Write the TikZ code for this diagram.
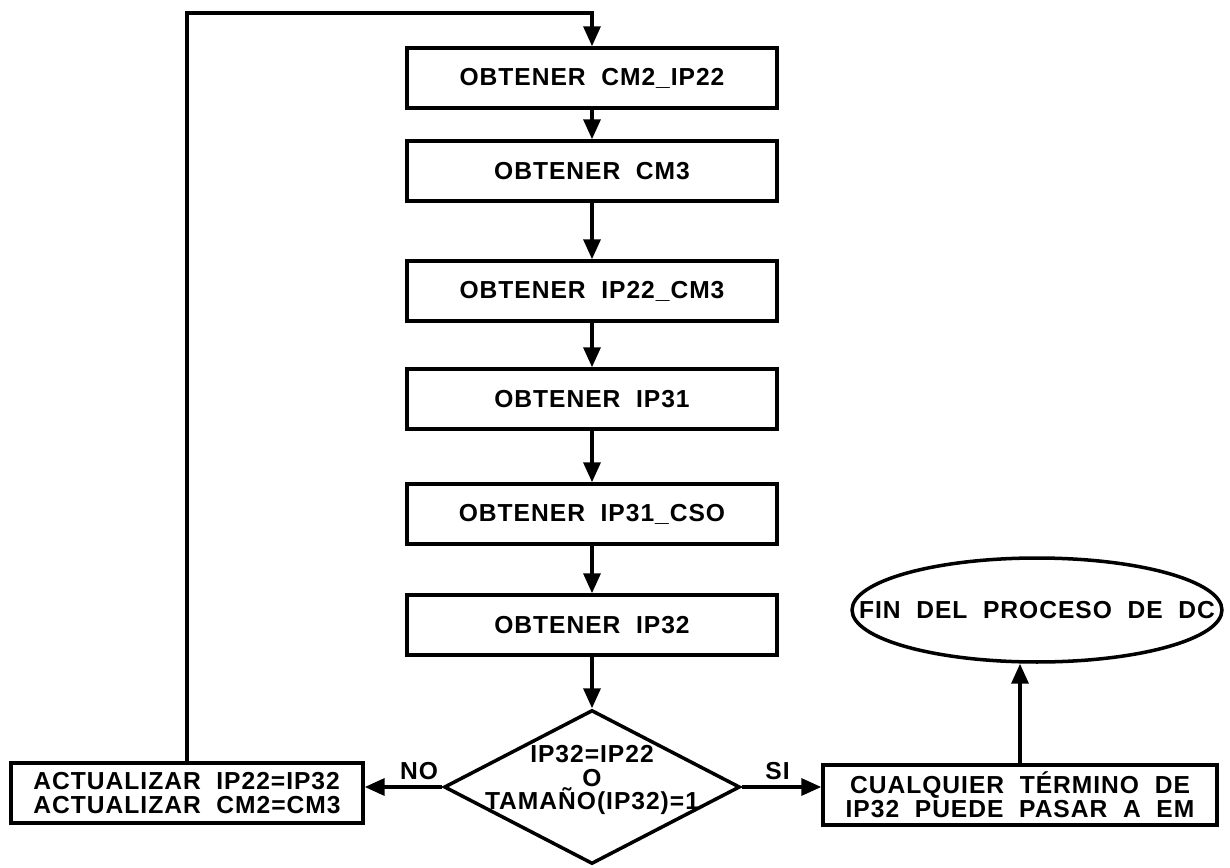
\documentclass[tikz,border=0pt]{standalone}
\usepackage{fontspec}
\newfontfamily\flowfont{Liberation Sans Bold}[LetterSpace=4,WordSpace=2]
\usetikzlibrary{arrows.meta,shapes.geometric}

\begin{document}
\begin{tikzpicture}[x=0.02cm,y=-0.02cm,
    every node/.style={font=\flowfont\fontsize{14}{13.5}\selectfont},
    box/.style={draw,line width=2pt,minimum height=1.2cm,inner sep=2pt},
    arr/.style={line width=2pt,-{Triangle[length=0.4cm,width=0.34cm]}}]
    \useasboundingbox (0,0) rectangle (1230,868);

    \node[box,minimum width=7.4cm] (obt1) at (592,78) {OBTENER CM2\_IP22};
    \node[box,minimum width=7.4cm] (obt2) at (592,171) {OBTENER CM3};
    \node[box,minimum width=7.4cm] (obt3) at (592,291) {OBTENER IP22\_CM3};
    \node[box,minimum width=7.4cm] (obt4) at (592,399) {OBTENER IP31};
    \node[box,minimum width=7.4cm] (obt5) at (592,514) {OBTENER IP31\_CSO};
    \node[box,minimum width=7.4cm] (obt6) at (592,625) {OBTENER IP32};

    \node[diamond,draw,line width=2pt,inner sep=0pt,minimum width=5.92cm,minimum height=3.08cm,
        label={[align=center,yshift=0.14cm,font=\flowfont\fontsize{14}{13.2}\selectfont]center:{IP32=IP22\\O\\TAMAÑO(IP32)=1}}] (dec) at (592,787) {};

    \node[box,minimum width=7.04cm,align=left] (upd) at (187,793) {ACTUALIZAR IP22=IP32\\ACTUALIZAR CM2=CM3};
    \node[box,minimum width=7.88cm,align=center] (cual) at (1020,795) {CUALQUIER TÉRMINO DE\\IP32 PUEDE PASAR A EM};
    \node[ellipse,draw,line width=2pt,inner sep=0pt,minimum width=7.4cm,minimum height=2.08cm,
        label={center:FIN DEL PROCESO DE DC}] (fin) at (1037,610) {};

    \coordinate (top) at (0,13);

    \foreach \a/\b in {obt1/obt2,obt2/obt3,obt3/obt4,obt4/obt5,obt5/obt6,obt6/dec}
        \draw[arr] (\a) -- (\b);

    \draw[arr] (dec.west) -- node[above,pos=0.3] {NO} (dec.west -| upd.east);
    \draw[arr] (dec.east) -- node[above,pos=0.45] {SI} (dec.east -| cual.west);
    \draw[arr] (cual.north) -- (cual.north |- fin.south);
    \draw[arr] (upd.north) |- (top -| obt1.north) -- (obt1.north);
\end{tikzpicture}
\end{document}
